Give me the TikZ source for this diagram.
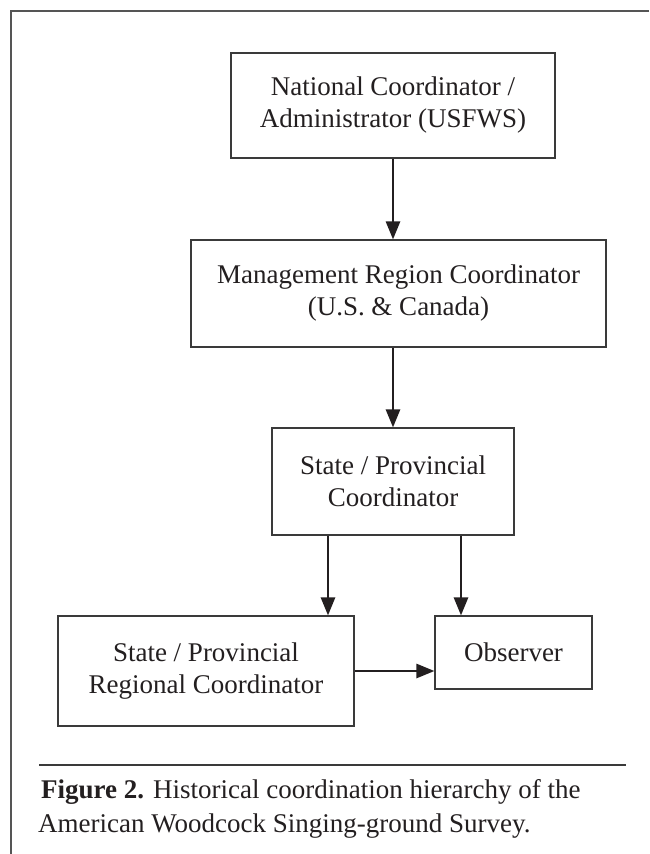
\documentclass[tikz,border=0pt]{standalone}
\usepackage{fontspec}
\setmainfont{Liberation Serif}
\usetikzlibrary{arrows.meta}
\definecolor{ink}{HTML}{231F20}
\definecolor{boxline}{HTML}{3A3A3A}
\definecolor{framecol}{HTML}{555555}
\tikzset{
  box/.style={draw=boxline, line width=1.1pt, fill=white, text=ink, align=center,
    inner sep=0pt, font=\fontsize{27}{32}\selectfont},
  arr/.style={draw=ink, line width=2.6pt, -{Triangle[length=18pt,width=14pt]}},
  captxt/.style={text=ink, inner sep=0pt, anchor=base west, font=\fontsize{27}{34}\selectfont},
}
\begin{document}
\begin{tikzpicture}[x=1pt,y=-1pt]
\useasboundingbox (0,0) rectangle (649,854);
% frame
\draw[framecol, line width=1.3pt] (649,11) -- (11,11) -- (11,854);
% boxes
\node[box, minimum width=324pt, minimum height=105pt] (n1) at (393,105.5)
  {National Coordinator /\\Administrator (USFWS)};
\node[box, minimum width=415pt, minimum height=107pt] (n2) at (398.5,293.5)
  {Management Region Coordinator\\(U.S. \& Canada)};
\node[box, minimum width=242pt, minimum height=107pt] (n3) at (393,481.5)
  {State / Provincial\\Coordinator};
\node[box, minimum width=296pt, minimum height=110pt] (n4) at (206,671)
  {State / Provincial\\Regional Coordinator};
\node[box, minimum width=157pt, minimum height=73pt] (n5) at (513.5,652.5)
  {Observer};
% connectors
\draw[arr] (n1.south) -- (n1.south |- n2.north);
\draw[arr] (n3.north |- n2.south) -- (n3.north);
\coordinate (a1) at ([xshift=-65pt]n3.south);
\coordinate (a2) at ([xshift=68pt]n3.south);
\draw[arr] (a1) -- (a1 |- n4.north);
\draw[arr] (a2) -- (a2 |- n5.north);
\draw[arr] (n4.east) -- (n4.east -| n5.west);
% caption
\coordinate (r1) at (39,765);
\coordinate (r2) at (626,765);
\draw[boxline, line width=1.6pt] (r1) -- (r2);
\node[captxt] (c1) at (41,798) {\textbf{Figure 2.} Historical coordination hierarchy of the};
\node[captxt] (c2) at (38,832) {American Woodcock Singing-ground Survey.};
\end{tikzpicture}
\end{document}
